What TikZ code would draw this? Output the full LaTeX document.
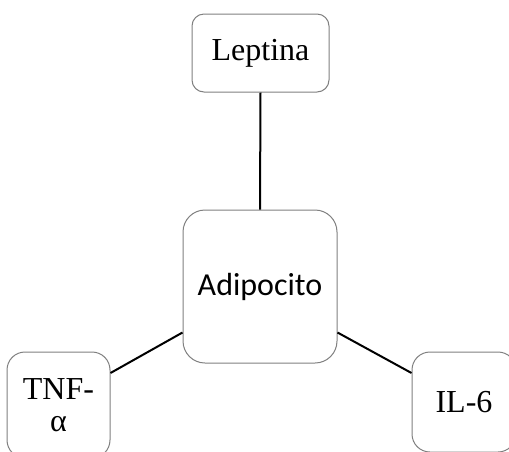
\documentclass[tikz,border=0pt]{standalone}
\usepackage{fontspec}
\setmainfont{Liberation Serif}
\newfontfamily\calibri{Carlito}
\begin{document}
\begin{tikzpicture}[x=1pt,y=-1pt,
  box/.style={draw=black!50, line width=1pt, fill=white, inner sep=0pt, align=center,
    font=\fontsize{32}{32}\selectfont},
  link/.style={draw=black, line width=2pt}]
\useasboundingbox (0,0) rectangle (509,451);
\clip (0,0) rectangle (509,451);
\node[box, rounded corners=12pt, minimum width=137pt, minimum height=78pt] (lep) at (260.5,53) {Leptina};
\node[box, rounded corners=22pt, minimum width=154pt, minimum height=153pt, font=\calibri\fontsize{32}{32}\selectfont] (adi) at (260,286.5) {Adipocito};
\node[box, rounded corners=18pt, minimum width=103pt, minimum height=106pt] (tnf) at (58.5,405) {TNF-\\α};
\node[box, rounded corners=18pt, minimum width=104pt, minimum height=100pt] (il) at (464,402) {IL-6};
\draw[link] (lep.south) -- (adi.north);
\draw[link] ([yshift=32pt]tnf.east) -- ([yshift=-46pt]adi.west);
\draw[link] ([yshift=-46pt]adi.east) -- ([yshift=29pt]il.west);
\end{tikzpicture}
\end{document}
